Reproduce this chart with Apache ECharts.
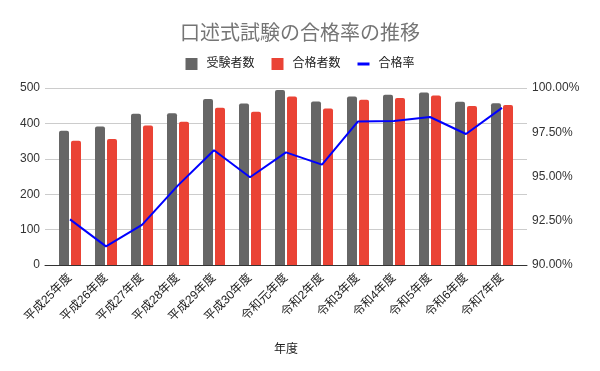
<!DOCTYPE html>
<html><head><meta charset="utf-8">
<script src="https://cdn.jsdelivr.net/npm/echarts@6/dist/echarts.min.js"></script>
<style>html,body{margin:0;padding:0;background:#fff}#c{width:600px;height:371px}</style>
</head><body><div id="c"></div>
<script>
const categories = ['平成25年度','平成26年度','平成27年度','平成28年度','平成29年度','平成30年度','令和元年度','令和2年度','令和3年度','令和4年度','令和5年度','令和6年度','令和7年度'];
const examinees = [379,391,427,429,469,456,494,462,476,481,487,461,457];
const passers   = [351,356,394,405,444,433,476,442,467,472,479,449,452];
const passRate  = [92.58,91.05,92.27,94.5,96.48,94.96,96.36,95.67,98.11,98.13,98.36,97.40,98.88];
const leftTicks = {min:0, max:500, interval:100};
const rightTicks = {min:90, max:100, interval:2.5};

const FONT = '"Liberation Sans", "Noto Sans CJK JP", sans-serif';
const chart = echarts.init(document.getElementById('c'), null, {renderer:'canvas'});
chart.setOption({
  animation:false,
  backgroundColor:'#fff',
  title:{text:'口述式試験の合格率の推移', left:'center', top:17,
    textStyle:{fontSize:20, fontWeight:'normal', color:'#757575', fontFamily:'"Noto Sans CJK JP", sans-serif'}},
  legend:{top:53, left:'center', itemWidth:12, itemHeight:12, itemGap:17,
    textStyle:{fontSize:12, color:'#222', fontFamily:FONT, padding:[0,0,0,4]},
    data:[{name:'受験者数', icon:'rect'},{name:'合格者数', icon:'rect'},
          {name:'合格率', icon:'path://M0,0 L12,0 L12,3 L0,3 Z'}]},
  grid:[
    {left:45, right:73, top:88, bottom:106},
    {left:52, right:80, top:88, bottom:106}
  ],
  xAxis:[
    {gridIndex:0, type:'value', min:0, max:1, axisLabel:{show:false}, axisTick:{show:false}, splitLine:{show:false},
      axisLine:{show:true, lineStyle:{color:'#333', width:1}}},
    {gridIndex:1, type:'category', data:categories, axisLine:{show:false}, axisTick:{show:false},
      axisLabel:{rotate:45, fontSize:12, color:'#222', fontFamily:FONT, margin:11, interval:0},
      name:'年度', nameLocation:'middle', nameGap:79,
      nameTextStyle:{fontSize:12, color:'#222', fontFamily:FONT}}
  ],
  yAxis:[
    {gridIndex:0, type:'value', position:'left', min:leftTicks.min, max:leftTicks.max, interval:leftTicks.interval,
      axisLine:{show:false}, axisTick:{show:false},
      axisLabel:{fontSize:12, color:'#333', fontFamily:FONT, margin:5},
      splitLine:{lineStyle:{color:'#cccccc'}}},
    {gridIndex:0, type:'value', position:'right', min:rightTicks.min, max:rightTicks.max, interval:rightTicks.interval,
      axisLine:{show:false}, axisTick:{show:false},
      axisLabel:{fontSize:12, color:'#333', fontFamily:FONT, margin:5, formatter:v=>v.toFixed(2)+'%'},
      splitLine:{show:false}},
    {gridIndex:1, type:'value', min:leftTicks.min, max:leftTicks.max, show:false, splitLine:{show:false}},
    {gridIndex:1, type:'value', min:rightTicks.min, max:rightTicks.max, show:false, splitLine:{show:false}}
  ],
  series:[
    {name:'受験者数', type:'bar', xAxisIndex:1, yAxisIndex:2, data:examinees, barWidth:10, barGap:'20%',
      itemStyle:{color:'#666666', borderRadius:[2,2,0,0]}},
    {name:'合格者数', type:'bar', xAxisIndex:1, yAxisIndex:2, data:passers, barWidth:10, barGap:'20%',
      itemStyle:{color:'#ea4335', borderRadius:[2,2,0,0]}},
    {name:'合格率', type:'line', xAxisIndex:1, yAxisIndex:3, data:passRate, symbol:'none', z:5,
      lineStyle:{color:'#0000ff', width:2}, itemStyle:{color:'#0000ff'}}
  ]
});
</script></body></html>
